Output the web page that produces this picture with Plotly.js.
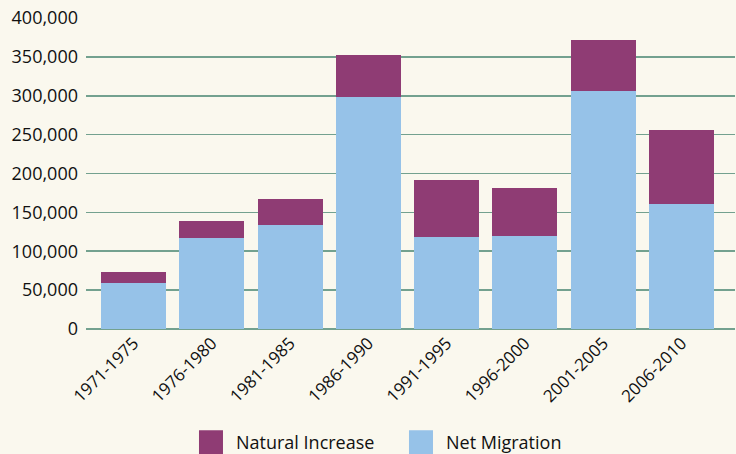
<!DOCTYPE html>
<html>
<head>
<meta charset="utf-8">
<script src="https://cdn.plot.ly/plotly-3.0.1.min.js"></script>
<style>
html,body{margin:0;padding:0;background:#faf8ee;}
#chart{width:736px;height:454px;}
</style>
</head>
<body>
<div id="chart"></div>
<script>
var periods = ["1971-1975","1976-1980","1981-1985","1986-1990","1991-1995","1996-2000","2001-2005","2006-2010"];
var netMigration = [59000, 117000, 134000, 298000, 118000, 120000, 306000, 161000];
var naturalIncrease = [14000, 22000, 33000, 54000, 74000, 61000, 66000, 95000];
var tickVals = [0, 50000, 100000, 150000, 200000, 250000, 300000, 350000, 400000];

var font = "'Open Sans', 'Noto Sans', sans-serif";
var data = [
  {type:"bar", name:"Net Migration", x:periods, y:netMigration,
   marker:{color:"#96c2e8", line:{width:0}}},
  {type:"bar", name:"Natural Increase", x:periods, y:naturalIncrease,
   marker:{color:"#8f3c74", line:{width:0}}}
];
var layout = {
  width:736, height:454,
  barmode:"stack", bargap:0.17,
  paper_bgcolor:"#faf8ee", plot_bgcolor:"#faf8ee",
  margin:{l:86, r:1, t:18, b:125, pad:0, autoexpand:false},
  font:{family:font, color:"#111", size:17},
  showlegend:true,
  legend:{orientation:"h", traceorder:"reversed",
          xref:"container", x:0.2527, xanchor:"left",
          yref:"container", y:0.025, yanchor:"middle",
          font:{size:18}, itemwidth:40, entrywidth:155, bgcolor:"rgba(0,0,0,0)"},
  xaxis:{type:"category", range:[-0.607, 7.683], tickangle:-45, showgrid:false,
         showline:false, ticks:"", tickfont:{size:17}, automargin:false},
  yaxis:{range:[0, 400000], tickvals:tickVals, tickformat:",d", showgrid:true,
         gridcolor:"#73a18f", gridwidth:1.6, zeroline:true, zerolinecolor:"#73a18f",
         zerolinewidth:1.6, ticks:"", ticklabelstandoff:7, tickfont:{size:18},
         automargin:false}
};
Plotly.newPlot("chart", data, layout, {displayModeBar:false, staticPlot:true}).then(function(gd){
  var pts = gd.querySelectorAll(".legend .legendpoints path");
  pts.forEach(function(p){
    var t = p.getAttribute("transform") || "";
    p.setAttribute("transform", t + " scale(2)");
  });
});
</script>
</body>
</html>
